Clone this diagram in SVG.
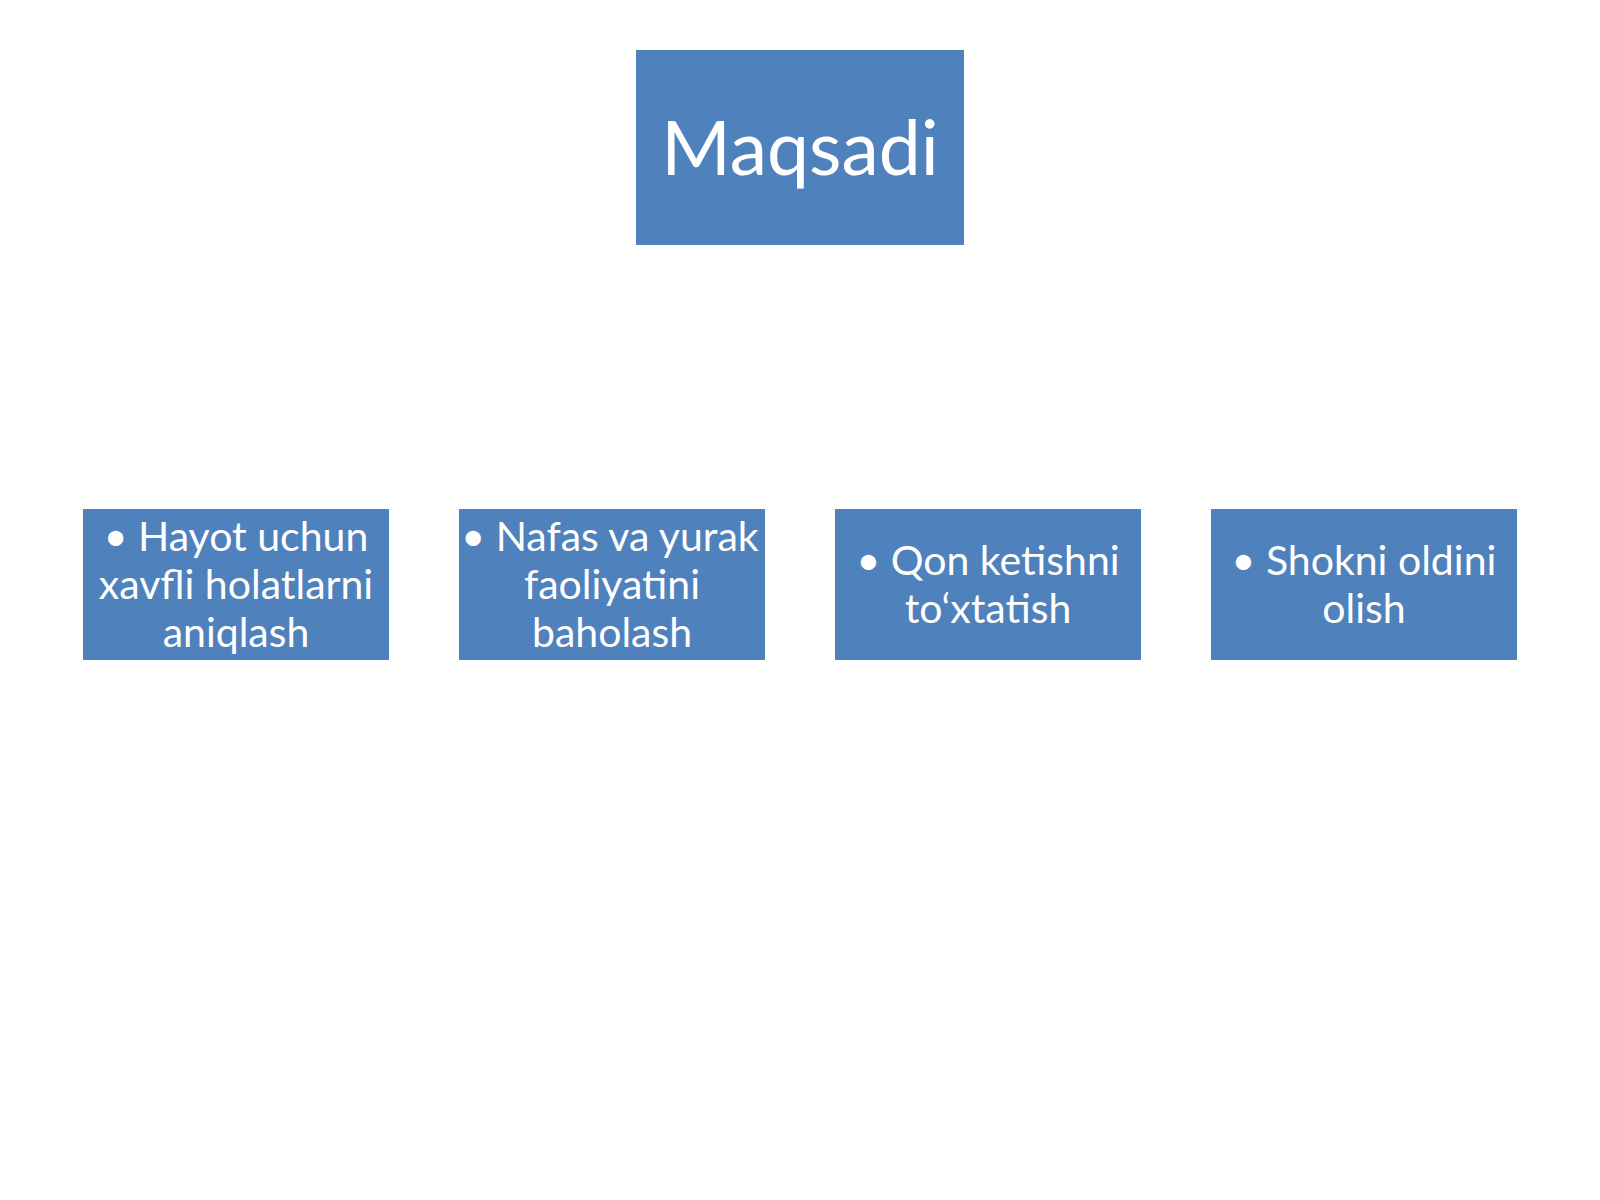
<svg xmlns="http://www.w3.org/2000/svg" width="1600" height="1200" viewBox="0 0 1600 1200">
<style>
.box{fill:#4f81bd;}
.t{font-family:Lato,"Liberation Sans",sans-serif;fill:#ffffff;text-anchor:middle;}
.title{font-size:75px;}
.item{font-size:41px;}
</style>
<rect width="1600" height="1200" fill="#ffffff"/>
<g id="connectors"></g>
<g id="node-maqsadi">
<rect class="box" x="636" y="50" width="328" height="195"/>
<text class="t title" x="800" y="175">Maqsadi</text>
</g>
<g id="node-1">
<rect class="box" x="83" y="509" width="306" height="151"/>
<text class="t item" x="236" y="551">• Hayot uchun</text>
<text class="t item" x="236" y="599">xavfli holatlarni</text>
<text class="t item" x="236" y="647">aniqlash</text>
</g>
<g id="node-2">
<rect class="box" x="459" y="509" width="306" height="151"/>
<text class="t item" x="610" y="551">• Nafas va yurak</text>
<text class="t item" x="612" y="599">faoliyatini</text>
<text class="t item" x="612" y="647">baholash</text>
</g>
<g id="node-3">
<rect class="box" x="835" y="509" width="306" height="151"/>
<text class="t item" x="988" y="575">• Qon ketishni</text>
<text class="t item" x="988" y="623">to‘xtatish</text>
</g>
<g id="node-4">
<rect class="box" x="1211" y="509" width="306" height="151"/>
<text class="t item" x="1364" y="575">• Shokni oldini</text>
<text class="t item" x="1364" y="623">olish</text>
</g>
</svg>
